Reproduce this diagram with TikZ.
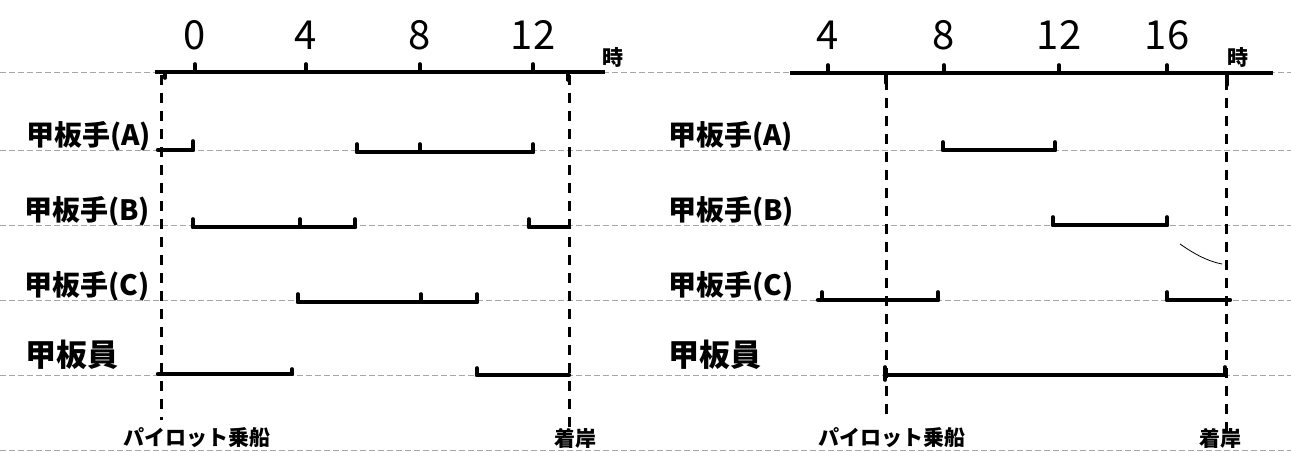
\documentclass[tikz,border=0pt]{standalone}
\usepackage{fontspec}
\setmainfont{Noto Sans CJK JP}
\begin{document}
\begin{tikzpicture}[x=1pt,y=-1pt,
  guide/.style={gray!70,line width=0.6pt,dash pattern=on 6pt off 3pt},
  axisline/.style={black,line width=3.2pt},
  seg/.style={black,line width=4.4pt,line cap=round},
  tk/.style={black,line width=3.6pt,line cap=round},
  vdash/.style={black,line width=3pt,dash pattern=on 10pt off 8pt},
  num/.style={font=\fontsize{40}{40}\selectfont,inner sep=0pt},
  hr/.style={font=\fontsize{21}{21}\selectfont\bfseries,inner sep=0pt},
  rowlab/.style={font=\fontsize{28}{28}\selectfont\bfseries,inner sep=0pt,anchor=west},
  rowlabb/.style={font=\fontsize{31}{31}\selectfont\bfseries,inner sep=0pt,anchor=west},
  botlab/.style={font=\fontsize{21}{21}\selectfont\bfseries,inner sep=0pt},
  thin/.style={black,line width=0.8pt}]
\useasboundingbox (0,0) rectangle (1291,452);
\fill[white] (0,0) rectangle (1291,452);
% guide lines
\foreach \yy in {72,150,225,300,375,450}
  \draw[guide] (0,\yy) -- (1291,\yy);
% ---------------- left chart ----------------
\draw[axisline] (155,72) -- (605,72);
\foreach \xx/\t in {195/0,306/4,420/8,533/12}{
  \draw[tk] (\xx,72) -- (\xx,64);
  \node[num] (L\t) at (\xx,35) {\t};
}
\draw[tk] (165,72) -- (165,78);
\draw[tk] (568,72) -- (568,80);
\node[hr] (Lh) at (613,57) {時};
\draw[vdash] (161,75) -- (161,420);
\draw[vdash] (569,75) -- (569,432);
\node[rowlab] (LA) at (26,136) {甲板手(A)};
\node[rowlab] (LB) at (24,211) {甲板手(B)};
\node[rowlab] (LC) at (24,286) {甲板手(C)};
\node[rowlabb] (LD) at (25,355) {甲板員};
% row A
\draw[seg] (158,150) -- (193,150);
\draw[tk] (193,150) -- (193,141);
\draw[seg] (357,152) -- (533,152);
\foreach \xx in {357,420,533} \draw[tk] (\xx,152) -- (\xx,144);
% row B
\draw[seg] (193,227) -- (355,227);
\foreach \xx in {193,300,355} \draw[tk] (\xx,227) -- (\xx,219);
\draw[seg] (529,227) -- (569,227);
\draw[tk] (529,227) -- (529,219);
% row C
\draw[seg] (298,302) -- (477,302);
\foreach \xx in {298,421,477} \draw[tk] (\xx,302) -- (\xx,294);
% row D
\draw[seg] (158,374) -- (292,374);
\draw[tk] (292,374) -- (292,369);
\draw[seg] (477,375) -- (569,375);
\draw[tk] (477,375) -- (477,368);
\node[botlab] (Lp) at (197,438) {パイロット乗船};
\node[botlab] (Lc) at (575,438) {着岸};
% ---------------- right chart ----------------
\draw[axisline] (790,73) -- (1273,73);
\foreach \xx/\t in {828/4,944/8,1059/12,1167/16}{
  \draw[tk] (\xx,73) -- (\xx,65);
  \node[num] (R\t) at (\xx,35) {\t};
}
\draw[tk] (886,73) -- (886,83);
\draw[tk] (1227,73) -- (1227,85);
\node[hr] (Rh) at (1238,57) {時};
\draw[vdash] (886,80) -- (886,420);
\draw[vdash] (1226,80) -- (1226,432);
\node[rowlab] (RA) at (668,136) {甲板手(A)};
\node[rowlab] (RB) at (668,211) {甲板手(B)};
\node[rowlab] (RC) at (668,286) {甲板手(C)};
\node[rowlabb] (RD) at (668,355) {甲板員};
% row A
\draw[seg] (943,150) -- (1055,150);
\foreach \xx in {943,1055} \draw[tk] (\xx,150) -- (\xx,142);
% row B
\draw[seg] (1053,225) -- (1167,225);
\foreach \xx in {1053,1167} \draw[tk] (\xx,225) -- (\xx,217);
% row C
\draw[seg] (818,300) -- (938,300);
\foreach \xx in {822,938} \draw[tk] (\xx,300) -- (\xx,292);
\draw[seg] (1167,300) -- (1230,300);
\draw[tk] (1167,300) -- (1167,292);
% row D
\draw[seg] (885,375) -- (1225,375);
\draw[tk] (885,380) -- (885,367);
\draw[tk] (1225,375) -- (1225,367);
\draw[thin] (1180,244) .. controls (1200,258) and (1212,262) .. (1222,264);
\node[botlab] (Rp) at (892,438) {パイロット乗船};
\node[botlab] (Rc) at (1220,438) {着岸};
\end{tikzpicture}
\end{document}
